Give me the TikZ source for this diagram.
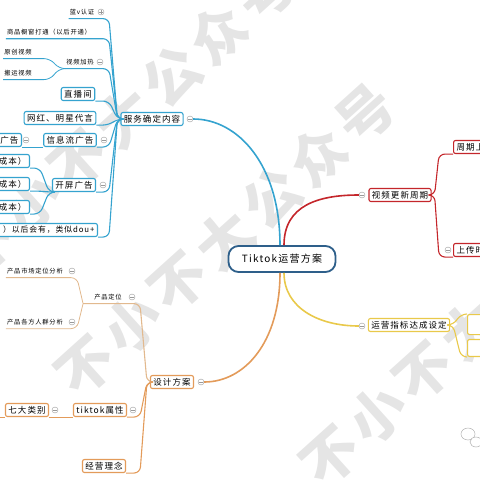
\documentclass[tikz,border=0pt]{standalone}
\usepackage{fontspec}
\newfontfamily\cjk[LetterSpace=12]{Noto Sans CJK SC}
\definecolor{ctrblue}{HTML}{2E5F8A}
\definecolor{bluebr}{HTML}{35A3CF}
\definecolor{redbr}{HTML}{C4262B}
\definecolor{yelbr}{HTML}{E9C94A}
\definecolor{orgbr}{HTML}{E39B5A}
\definecolor{tanbr}{HTML}{E2B98E}
\begin{document}
\begin{tikzpicture}[x=1pt,y=-1pt]
  \tikzstyle{box}=[draw,rounded corners=2pt,line width=1.1pt,fill=white,inner xsep=3pt,inner ysep=2pt,minimum height=13pt,font=\cjk\fontsize{8.5}{9}\selectfont]
  \tikzstyle{plain}=[inner xsep=1pt,inner ysep=3.5pt,font=\cjk\fontsize{6.3}{7}\selectfont]
  \tikzstyle{fold}=[circle,draw=gray!80,fill=white,line width=0.4pt,minimum size=6pt,inner sep=0pt,
    path picture={\draw[gray!80,line width=0.4pt] ([xshift=1.4pt]path picture bounding box.west) -- ([xshift=-1.4pt]path picture bounding box.east);}]
  \tikzstyle{unfold}=[fold,
    path picture={\draw[gray!80,line width=0.4pt] ([xshift=1.4pt]path picture bounding box.west) -- ([xshift=-1.4pt]path picture bounding box.east)
      ([yshift=1.4pt]path picture bounding box.south) -- ([yshift=-1.4pt]path picture bounding box.north);}]
  \tikzstyle{wm}=[font=\cjk\bfseries\fontsize{56}{56}\selectfont,text=gray!20,rotate=42]
  \tikzstyle{link}=[rounded corners=6pt,line width=1.1pt]
  \useasboundingbox (0,0) rectangle (480,480);
  \clip (0,0) rectangle (480,480);
  \node[wm] (wmA) at (125,118) {不小不大公众号};
  \node[wm] (wmB) at (225,240) {不小不大公众号};
  \node[wm] (wmC) at (470,330) {不小不大公众号};
  \draw[gray!60,line width=0.5pt] (468,434) ellipse (7 and 6);
  \draw[gray!60,line width=0.5pt,fill=white] (476,442) ellipse (6 and 5);

  \node[draw=ctrblue,line width=1.8pt,rounded corners=10pt,fill=white,minimum width=107pt,minimum height=26pt,font=\cjk\fontsize{10}{11}\selectfont] (plan) at (282,259) {Tiktok运营方案};

  \node[box,draw=bluebr] (svc) at (152,119) {服务确定内容};
  \node[fold] (svcF) at (190,119) {};
  \coordinate (trkB) at (109,119);
  \node[plain] (ren) at (82,12) {蓝v认证};
  \node[unfold] (renF) at (101,12) {};
  \node[plain] (chu) at (49,32) {商品橱窗打通（以后开通）};
  \node[plain] (jia) at (80,62) {视频加热};
  \node[fold] (jiaF) at (100,62) {};
  \coordinate (trkJ) at (50,62);
  \node[plain] (yuan) at (18,52) {原创视频};
  \node[plain] (ban) at (18,73) {搬运视频};
  \node[box,draw=bluebr] (zhibo) at (78,94) {直播间};
  \node[box,draw=bluebr] (wh) at (60,118) {网红、明星代言};
  \node[box,draw=bluebr] (xxl) at (70,140) {信息流广告};
  \node[fold] (xxlF) at (104,140) {};
  \node[box,draw=bluebr,anchor=east] (xxlA) at (22,140) {\phantom{广}广告};
  \node[fold] (xxlAF) at (26,140) {};
  \coordinate (xxlL) at (-5,146);
  \node[box,draw=bluebr] (kp) at (74,185) {开屏广告};
  \node[fold] (kpF) at (103,185) {};
  \coordinate (trkK) at (40,185);
  \node[box,draw=bluebr,anchor=east] (kp1) at (30,161) {\phantom{广}成本）};
  \node[box,draw=bluebr,anchor=east] (kp2) at (30,184) {\phantom{广}成本）};
  \node[box,draw=bluebr,anchor=east] (kp3) at (30,207) {\phantom{广}成本）};
  \node[box,draw=bluebr,anchor=east,font=\cjk\fontsize{7.8}{9}\selectfont] (dou) at (98,230) {\hspace{6pt}）以后会有，类似dou+};

  \draw[link,bluebr] (svc.west) -- ([xshift=-3pt]svc.west) -- (trkB |- ren.south) -- (ren.south west);
  \draw[link,bluebr] (svc.west) -- ([xshift=-3pt]svc.west) -- (trkB |- chu.south) -- (chu.south west);
  \draw[link,bluebr] (svc.west) -- ([xshift=-3pt]svc.west) -- (trkB |- jia.south) -- (jia.south west);
  \draw[link,bluebr,line width=0.8pt] (jia.south west) -- ([xshift=-6pt]jia.south west) -- (trkJ |- yuan.south) -- (yuan.south west);
  \draw[link,bluebr,line width=0.8pt] (jia.south west) -- ([xshift=-6pt]jia.south west) -- (trkJ |- ban.south) -- (ban.south west);
  \draw[link,bluebr] (svc.west) -- ([xshift=-3pt]svc.west) -- (trkB |- zhibo.south east) -- (zhibo.south east);
  \draw[link,bluebr] (svc.west) -- ([xshift=-3pt]svc.west) -- (trkB |- wh.south east) -- (wh.south east);
  \draw[link,bluebr] (svc.west) -- ([xshift=-3pt]svc.west) -- (trkB |- xxl.south east) -- (xxl.south east);
  \draw[link,bluebr] (svc.west) -- ([xshift=-3pt]svc.west) -- (trkB |- kp.south east) -- (kp.south east);
  \draw[link,bluebr] (svc.west) -- ([xshift=-3pt]svc.west) -- (trkB |- dou.south east) -- (dou.south east);
  \draw[link,bluebr] (xxl.south west) -- (xxlA.south east);
  \draw[link,bluebr] (xxlA.south west) -- (xxlL |- xxlA.south west);
  \draw[link,bluebr] (kp.south west) -- ([xshift=-3pt]kp.south west) -- (trkK |- kp1.south east) -- (kp1.south east);
  \draw[link,bluebr] (kp.south west) -- ([xshift=-3pt]kp.south west) -- (trkK |- kp2.south east) -- (kp2.south east);
  \draw[link,bluebr] (kp.south west) -- ([xshift=-3pt]kp.south west) -- (trkK |- kp3.south east) -- (kp3.south east);

  \node[box,draw=redbr] (upd) at (400,195) {视频更新周期};
  \node[fold] (updF) at (362,195) {};
  \coordinate (trkR) at (439,195);
  \node[box,draw=redbr,anchor=west] (zq) at (453,147) {周期上\phantom{广广}};
  \node[box,draw=redbr,anchor=west] (scs) at (453,250) {上传时\phantom{广广}};
  \node[fold] (scsF) at (448,250) {};
  \draw[link,redbr] (upd.east) -- ([xshift=3pt]upd.east) -- (trkR |- zq.south west) -- (zq.south west);
  \draw[link,redbr] (upd.east) -- ([xshift=3pt]upd.east) -- (trkR |- scs.south west) -- (scs.south west);

  \node[box,draw=yelbr] (kpi) at (409,325) {运营指标达成设定};
  \node[fold] (kpiF) at (362,326) {};
  \coordinate (trkY) at (461,325);
  \node[box,draw=yelbr,anchor=north west,minimum width=30pt,minimum height=20pt] (ya) at (467,314) {};
  \node[box,draw=yelbr,anchor=south west,minimum width=30pt,minimum height=17pt] (yb) at (467,357) {};
  \draw[link,yelbr] (kpi.east) -- ([xshift=3pt]kpi.east) -- (trkY |- ya.north west) -- (ya.north west);
  \draw[link,yelbr] (kpi.east) -- ([xshift=3pt]kpi.east) -- (trkY |- yb.south west) -- (yb.south west);

  \node[box,draw=orgbr] (des) at (172,382) {设计方案};
  \node[fold] (desF) at (201,382) {};
  \coordinate (trkO) at (140,382);
  \node[plain] (dw) at (108,297) {产品定位};
  \node[fold] (dwF) at (132,297) {};
  \coordinate (dwJ) at ([xshift=-10pt]dw.south west);
  \coordinate (trkD) at (77,297);
  \node[plain] (mkt) at (35,271) {产品市场定位分析};
  \node[fold] (mktF) at (72,271) {};
  \node[plain] (crowd) at (35,322) {产品各方人群分析};
  \node[fold] (crowdF) at (72,322) {};
  \node[box,draw=orgbr] (tt) at (100,410) {tiktok属性};
  \node[fold] (ttF) at (133,410) {};
  \node[box,draw=orgbr] (qd) at (27,410) {七大类别};
  \node[fold] (qdF) at (55,410) {};
  \coordinate (qdL) at (-5,417);
  \node[box,draw=orgbr] (jy) at (104,466) {经营理念};
  \draw[link,tanbr] (des.west) -- ([xshift=-3pt]des.west) -- (trkO |- dw.south) -- (dwJ);
  \draw[link,tanbr,line width=0.8pt] (dwJ) -- (trkD |- mkt.south) -- (mkt.south west);
  \draw[link,tanbr,line width=0.8pt] (dwJ) -- (trkD |- crowd.south) -- (crowd.south west);
  \draw[link,orgbr] (des.west) -- ([xshift=-3pt]des.west) -- (trkO |- tt.south east) -- (tt.south east);
  \draw[link,orgbr] (tt.south west) -- (qd.south east);
  \draw[link,orgbr] (qd.south west) -- (qdL |- qd.south west);
  \draw[link,orgbr] (des.west) -- ([xshift=-3pt]des.west) -- (trkO |- jy.south east) -- (jy.south east);

  \draw[bluebr,line width=1.6pt] ([xshift=-2pt]plan.north) .. controls +(0,-80) and +(45,0) .. (svcF.east);
  \draw[redbr,line width=1.6pt] ([xshift=2pt]plan.north) .. controls +(0,-40) and +(-40,0) .. (updF.west);
  \draw[yelbr,line width=1.6pt] ([xshift=2pt]plan.south) .. controls +(0,35) and +(-40,0) .. (kpiF.west);
  \draw[orgbr,line width=1.6pt] ([xshift=-2pt]plan.south) .. controls +(0,70) and +(40,0) .. (desF.east);
\end{tikzpicture}
\end{document}
